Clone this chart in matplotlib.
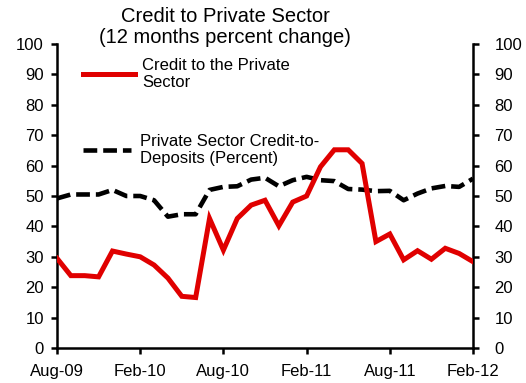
import matplotlib
matplotlib.use("Agg")
import matplotlib.pyplot as plt
import matplotlib.transforms as mtransforms

plt.rcParams['font.family'] = ['Liberation Sans', 'DejaVu Sans']

# Monthly observations, Aug-09 through Feb-12
months = ["Aug-09", "Sep-09", "Oct-09", "Nov-09", "Dec-09", "Jan-10",
          "Feb-10", "Mar-10", "Apr-10", "May-10", "Jun-10", "Jul-10",
          "Aug-10", "Sep-10", "Oct-10", "Nov-10", "Dec-10", "Jan-11",
          "Feb-11", "Mar-11", "Apr-11", "May-11", "Jun-11", "Jul-11",
          "Aug-11", "Sep-11", "Oct-11", "Nov-11", "Dec-11", "Jan-12",
          "Feb-12"]

credit_growth = [29.5, 23.8, 23.8, 23.4, 31.9, 30.9, 30.0, 27.3, 23.0, 17.0,
                 16.6, 42.6, 32.2, 42.6, 47.0, 48.6, 40.2, 48.0, 50.0, 59.6,
                 65.2, 65.2, 60.7, 35.0, 37.5, 29.0, 32.0, 29.2, 32.8, 31.1,
                 28.4]

credit_to_deposits = [49.2, 50.5, 50.5, 50.5, 52.0, 50.0, 50.0, 48.6, 43.2,
                      44.0, 44.0, 52.0, 53.0, 53.2, 55.4, 56.0, 53.2, 55.2,
                      56.3, 55.2, 54.9, 52.3, 52.1, 51.6, 51.7, 48.6, 50.8,
                      52.5, 53.3, 53.0, 55.7]

tick_months = ["Aug-09", "Feb-10", "Aug-10", "Feb-11", "Aug-11", "Feb-12"]
y_ticks = [0, 10, 20, 30, 40, 50, 60, 70, 80, 90, 100]

label_credit = "Credit to the Private\nSector"
label_ratio = "Private Sector Credit-to-\nDeposits (Percent)"
title = "Credit to Private Sector\n(12 months percent change)"

W, H = 526, 383
fig = plt.figure(figsize=(W / 100, H / 100), dpi=100)
ax = fig.add_axes([57 / W, 1 - 348 / H, (473 - 57) / W, (348 - 44) / H])

x = list(range(len(months)))
red_line, = ax.plot(x, credit_growth, color="#E00000", lw=3.6,
                    solid_joinstyle="miter", zorder=3)
black_line, = ax.plot(x, credit_to_deposits, color="black", lw=3.3,
                      dashes=(3.0, 1.3), dash_capstyle="butt", zorder=2)

ax.set_xlim(0, len(months) - 1)
ax.set_ylim(0, 100)
ax.set_yticks(y_ticks)
ax.set_xticks([months.index(m) for m in tick_months])
ax.set_xticklabels(tick_months)

for side in ("left", "bottom", "right"):
    ax.spines[side].set_linewidth(1.8)
ax.spines["top"].set_visible(False)

ax.tick_params(axis="both", direction="out", length=4.5, width=1.8,
               labelsize=12)
ax.tick_params(axis="y", left=True, right=True,
               labelleft=True, labelright=True, pad=5)
ax.tick_params(axis="x", pad=7)

# push the right-hand labels a little further from the spine
offset = mtransforms.ScaledTranslation(6 / 72, 0, fig.dpi_scale_trans)
for t in ax.yaxis.get_major_ticks():
    t.label2.set_transform(t.label2.get_transform() + offset)

fig.text(225 / W, 1 - 27 / H, title, ha="center", va="center",
         fontsize=14.5, linespacing=1.12)

leg1 = ax.legend([red_line], [label_credit], loc="upper left",
                 bbox_to_anchor=(83 / W, 1 - 58 / H),
                 bbox_transform=fig.transFigure, frameon=False,
                 fontsize=12, handlelength=3.1, handletextpad=0.45,
                 borderpad=0, borderaxespad=0)
ax.add_artist(leg1)
ax.legend([black_line], [label_ratio], loc="upper left",
          bbox_to_anchor=(83 / W, 1 - 134 / H),
          bbox_transform=fig.transFigure, frameon=False,
          fontsize=12, handlelength=2.85, handletextpad=0.6,
          borderpad=0, borderaxespad=0)

fig.savefig("out.png", dpi=100)
